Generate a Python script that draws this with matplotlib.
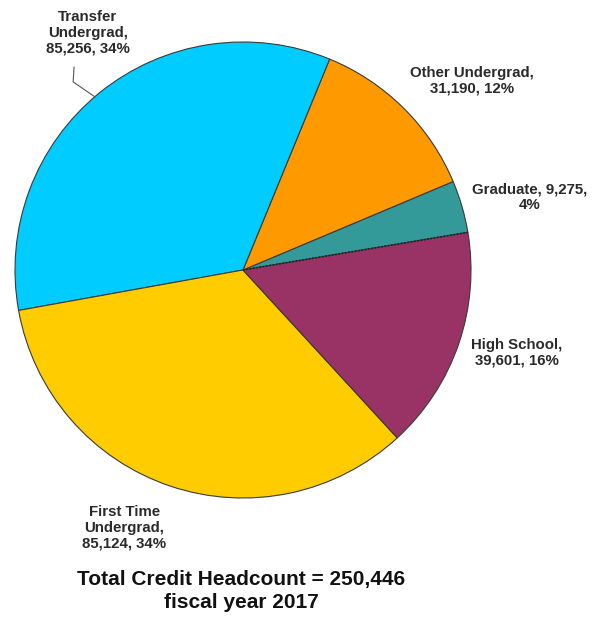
import matplotlib
matplotlib.use("Agg")
import numpy as np
import matplotlib.pyplot as plt

# Credit headcount by student type, FY2017
categories = ["Graduate", "Other Undergrad", "Transfer Undergrad", "First Time Undergrad", "High School"]
headcount = [9275, 31190, 85256, 85124, 39601]
percents = [4, 12, 34, 34, 16]
colors = ["#339999", "#FF9900", "#00CCFF", "#FFCC00", "#993366"]
total = 250446

plt.rcParams["font.family"] = ["Liberation Sans", "DejaVu Sans"]

fig = plt.figure(figsize=(5.92, 6.19), dpi=100)
ax = fig.add_axes([15 / 592, 121 / 619, 456 / 592, 456 / 619])

wedges, _ = ax.pie(
    headcount,
    colors=colors,
    startangle=9.5,
    counterclock=True,
    wedgeprops=dict(edgecolor="#3a3a3a", linewidth=0.8),
)
ax.set_xlim(-1, 1)
ax.set_ylim(-1, 1)
ax.axis("off")

# dotted edge between graduate and high school slices
t = np.deg2rad(wedges[0].theta1)
ax.plot([0, np.cos(t)], [0, np.sin(t)], color="#222222", lw=1.2, ls=(0, (1, 1)))

label_kw = dict(ha="center", va="center", fontsize=10.8, fontweight="bold",
                color="#2a2a2a", linespacing=1.15, clip_on=False)

ax.text(-0.68, 1.04, "Transfer\nUndergrad,\n{:,}, {}%".format(headcount[2], percents[2]), **label_kw)
ax.text(1.004, 0.829, "Other Undergrad,\n{:,}, {}%".format(headcount[1], percents[1]), **label_kw)
ax.text(1.259, 0.32, "Graduate, {:,},\n{}%".format(headcount[0], percents[0]), **label_kw)
ax.text(1.202, -0.362, "High School,\n{:,}, {}%".format(headcount[4], percents[4]), **label_kw)
ax.text(-0.52, -1.13, "First Time\nUndergrad,\n{:,}, {}%".format(headcount[3], percents[3]), **label_kw)

# leader line for the transfer label
ax.plot([-0.741, -0.745, -0.649], [0.890, 0.825, 0.759], color="#555555", lw=0.8, clip_on=False)

fig.text(241 / 592, 1 - 591 / 619,
         "Total Credit Headcount = {:,}\nfiscal year 2017".format(total),
         ha="center", va="center", fontsize=15, fontweight="bold",
         color="#111111", linespacing=1.2)

fig.savefig("out.png", dpi=100)
